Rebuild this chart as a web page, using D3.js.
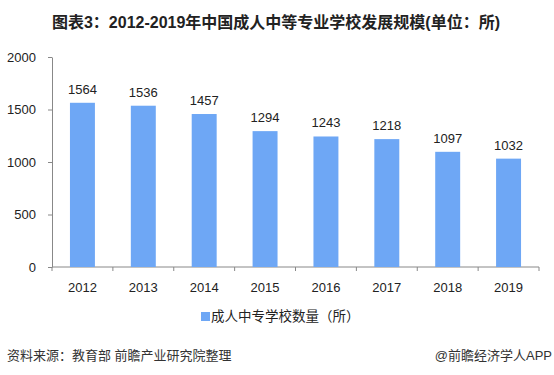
<!DOCTYPE html>
<html>
<head>
<meta charset="utf-8">
<script src="https://cdn.jsdelivr.net/npm/d3@7"></script>
<style>
  body { margin: 0; background: #fff; }
  svg text { font-family: "Liberation Sans", Arial, "Noto Sans CJK SC", sans-serif; fill: #222; }
  .cjk { font-family: "Liberation Sans", "Noto Sans CJK SC", sans-serif; }
  .axis path, .axis line { stroke: #888; }
</style>
</head>
<body>
<div class="chart"></div>
<script>
const years = ['2012', '2013', '2014', '2015', '2016', '2017', '2018', '2019'];
const schools = [1564, 1536, 1457, 1294, 1243, 1218, 1097, 1032];
const yTicks = [0, 500, 1000, 1500, 2000];

const titleText = '图表3：2012-2019年中国成人中等专业学校发展规模(单位：所)';
const legendText = '成人中专学校数量（所）';
const sourceText = '资料来源：教育部 前瞻产业研究院整理';
const brandText = '@前瞻经济学人APP';

function renderChart() {
    const W = 554, H = 375;
    const margin = {top: 57, right: 15, bottom: 108, left: 52};
    const width = W - margin.left - margin.right;
    const height = H - margin.top - margin.bottom;
    const barColor = '#6ea7f5';

    const root = d3.select('.chart').append('svg')
        .attr('width', W)
        .attr('height', H);

    const svg = root.append('g')
        .attr('transform', 'translate(' + margin.left + ',' + margin.top + ')');

    const xScale = d3.scaleBand()
        .domain(years)
        .range([0, width])
        .paddingInner(0.59)
        .paddingOuter(0.295);

    const yScale = d3.scaleLinear()
        .domain([0, 2000])
        .range([height, 0]);

    // title
    root.append('text')
        .attr('class', 'cjk')
        .attr('x', W / 2 - 1)
        .attr('y', 28)
        .attr('text-anchor', 'middle')
        .style('font-size', '16px')
        .style('font-weight', 'bold')
        .text(titleText);

    // y axis
    svg.append('g')
        .attr('class', 'axis y-axis')
        .call(d3.axisLeft(yScale).tickValues(yTicks).tickFormat(d3.format('d'))
            .tickSize(4).tickPadding(12).tickSizeOuter(0))
        .selectAll('text')
        .style('font-size', '13px')
        .style('fill', '#222');

    // x axis with ticks at band edges
    const xAxisG = svg.append('g')
        .attr('class', 'axis x-axis')
        .attr('transform', `translate(0, ${height})`);
    xAxisG.append('line')
        .attr('x1', 0).attr('x2', width)
        .attr('stroke', '#888');
    const step = xScale.step();
    xAxisG.selectAll('.tk')
        .data(d3.range(years.length + 1))
        .enter()
        .append('line')
        .attr('class', 'tk')
        .attr('x1', i => i * step).attr('x2', i => i * step)
        .attr('y1', 0).attr('y2', 4)
        .attr('stroke', '#888');
    xAxisG.selectAll('.lbl')
        .data(years)
        .enter()
        .append('text')
        .attr('class', 'lbl')
        .attr('x', d => xScale(d) + xScale.bandwidth() / 2)
        .attr('y', 25)
        .attr('text-anchor', 'middle')
        .style('font-size', '13px')
        .text(d => d);

    // bars
    svg.selectAll('rect.bar')
        .data(schools)
        .enter()
        .append('rect')
        .attr('class', 'bar')
        .attr('x', (d, i) => xScale(years[i]))
        .attr('y', d => yScale(d))
        .attr('width', xScale.bandwidth())
        .attr('height', d => height - yScale(d))
        .attr('fill', barColor);

    // value labels
    svg.selectAll('text.val')
        .data(schools)
        .enter()
        .append('text')
        .attr('class', 'val')
        .attr('x', (d, i) => xScale(years[i]) + xScale.bandwidth() / 2)
        .attr('y', d => yScale(d) - 9)
        .attr('text-anchor', 'middle')
        .style('font-size', '13px')
        .text(d => d);

    // legend
    root.append('rect')
        .attr('x', 201)
        .attr('y', 312)
        .attr('width', 9)
        .attr('height', 9)
        .attr('fill', barColor);
    root.append('text')
        .attr('class', 'cjk')
        .attr('x', 211)
        .attr('y', 321)
        .style('font-size', '13.5px')
        .text(legendText);

    // footer
    root.append('text')
        .attr('class', 'cjk')
        .attr('x', 7)
        .attr('y', 360)
        .style('font-size', '13px')
        .style('fill', '#333')
        .text(sourceText);
    root.append('text')
        .attr('class', 'cjk')
        .attr('x', 552)
        .attr('y', 360)
        .attr('text-anchor', 'end')
        .style('font-size', '13px')
        .style('fill', '#333')
        .text(brandText);
}

renderChart();
</script>
</body>
</html>
